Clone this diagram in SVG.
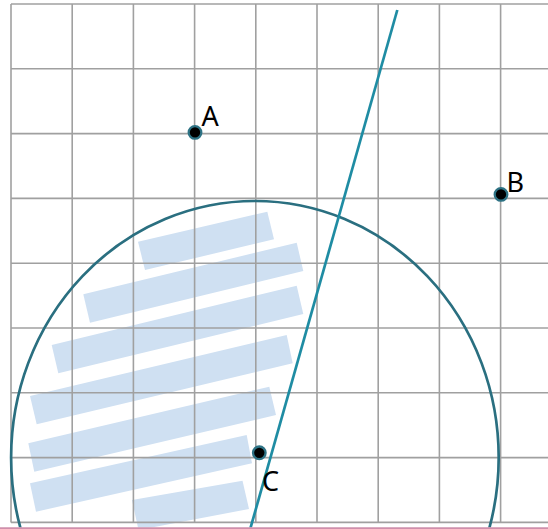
<svg xmlns="http://www.w3.org/2000/svg" width="548" height="529" viewBox="0 0 548 529">
<style>
.grid line{stroke:#a0a0a0;stroke-width:1.6}
.bar{fill:#cfe0f2}
.pt{fill:#000;stroke:#2d7284;stroke-width:2.3}
.lbl{font-family:"Noto Sans","Open Sans",sans-serif;font-size:27px;fill:#000}
</style>
<defs>
<clipPath id="clip"><rect x="0" y="0" width="548" height="527.5"/></clipPath>
</defs>
<rect width="548" height="529" fill="#fff"/>
<g clip-path="url(#clip)">
<g id="bars">
<polygon class="bar" points="138,241.7 267.3,211.7 274,239.3 145,270"/>
<polygon class="bar" points="83.3,294.3 296.7,242.7 303.3,271 90,322.7"/>
<polygon class="bar" points="51.7,345 296.7,285.7 303.3,314 58.3,373.3"/>
<polygon class="bar" points="30,396 286.7,335 292.7,363.3 36.7,424.3"/>
<polygon class="bar" points="28.3,443.3 269.3,386.7 276,415 34.3,471.7"/>
<polygon class="bar" points="30,483.3 246.7,435 252,463.3 36,511.7"/>
<polygon class="bar" points="132,500 242.5,480.7 249,509 138.5,530"/>
</g>
<g class="grid">
<line x1="11" y1="4" x2="11" y2="522.6"/>
<line x1="72.2" y1="4" x2="72.2" y2="522.6"/>
<line x1="133.4" y1="4" x2="133.4" y2="522.6"/>
<line x1="194.6" y1="4" x2="194.6" y2="522.6"/>
<line x1="255.8" y1="4" x2="255.8" y2="522.6"/>
<line x1="317" y1="4" x2="317" y2="522.6"/>
<line x1="378.2" y1="4" x2="378.2" y2="522.6"/>
<line x1="439.4" y1="4" x2="439.4" y2="522.6"/>
<line x1="500.6" y1="4" x2="500.6" y2="522.6"/>
<line x1="11" y1="4" x2="548" y2="4"/>
<line x1="11" y1="68.8" x2="548" y2="68.8"/>
<line x1="11" y1="133.6" x2="548" y2="133.6"/>
<line x1="11" y1="198.4" x2="548" y2="198.4"/>
<line x1="11" y1="263.2" x2="548" y2="263.2"/>
<line x1="11" y1="328" x2="548" y2="328"/>
<line x1="11" y1="392.8" x2="548" y2="392.8"/>
<line x1="11" y1="457.6" x2="548" y2="457.6"/>
<line x1="11" y1="522.4" x2="548" y2="522.4"/>
</g>
<ellipse id="circle" cx="254.9" cy="457.6" rx="243.8" ry="256.6" fill="none" stroke="#2a6f80" stroke-width="2.7"/>
<g id="connectors">
<line x1="397.3" y1="10" x2="250.2" y2="529" stroke="#1f8ca3" stroke-width="2.7"/>
</g>
</g>
<line x1="0" y1="528.2" x2="548" y2="528.2" stroke="#cf8fab" stroke-width="1.8"/>
<g id="A"><circle class="pt" cx="195" cy="132.4" r="6.3"/><text class="lbl" x="201.5" y="125.5">A</text></g>
<g id="B"><circle class="pt" cx="501" cy="194.4" r="6.3"/><text class="lbl" x="506.5" y="191.7">B</text></g>
<g id="C"><circle class="pt" cx="259.3" cy="452.8" r="6.3"/><text class="lbl" x="262" y="491">C</text></g>
</svg>
